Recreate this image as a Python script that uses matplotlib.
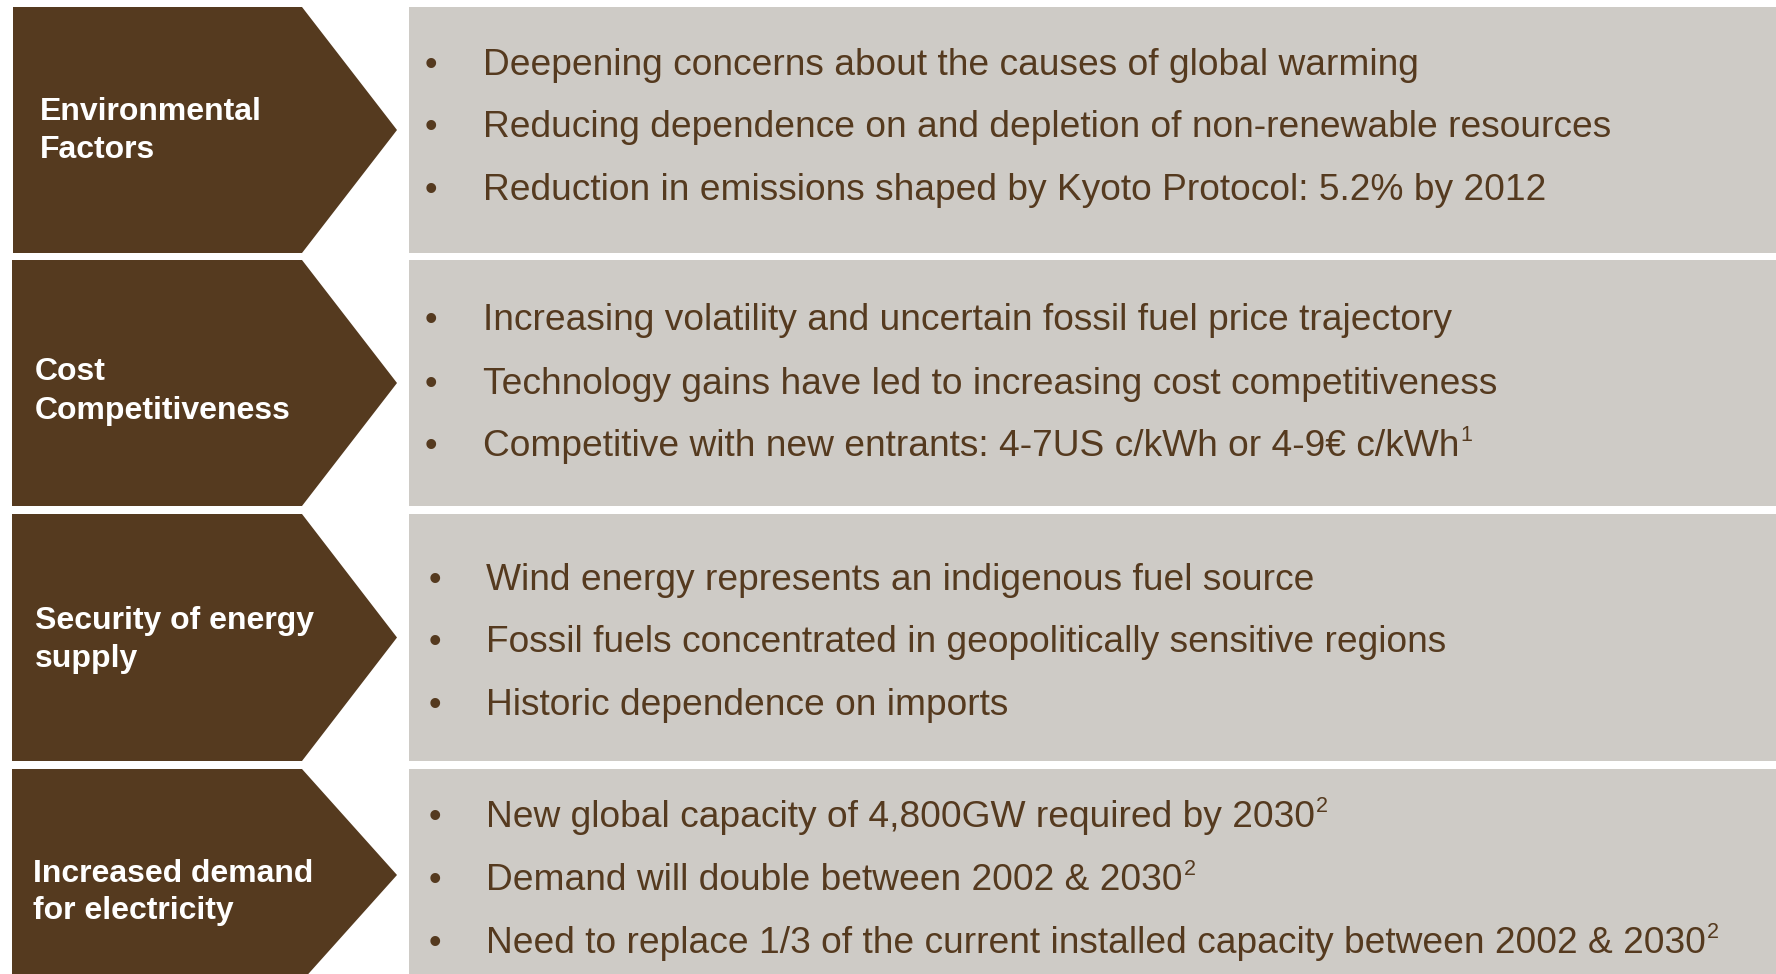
import matplotlib
matplotlib.use('Agg')
import matplotlib.pyplot as plt
from matplotlib.patches import Polygon, Rectangle

# Drivers (left arrows) and supporting points (right panels)
labels = [
    ["Environmental", "Factors"],
    ["Cost", "Competitiveness"],
    ["Security of energy", "supply"],
    ["Increased demand", "for electricity"],
]
bullets = [
    ["Deepening concerns about the causes of global warming",
     "Reducing dependence on and depletion of non-renewable resources",
     "Reduction in emissions shaped by Kyoto Protocol: 5.2% by 2012"],
    ["Increasing volatility and uncertain fossil fuel price trajectory",
     "Technology gains have led to increasing cost competitiveness",
     "Competitive with new entrants: 4-7US c/kWh or 4-9\u20ac c/kWh"],
    ["Wind energy represents an indigenous fuel source",
     "Fossil fuels concentrated in geopolitically sensitive regions",
     "Historic dependence on imports"],
    ["New global capacity of 4,800GW required by 2030",
     "Demand will double between 2002 & 2030",
     "Need to replace 1/3 of the current installed capacity between 2002 & 2030"],
]
# footnote marks after each bullet ('' = none)
footnotes = [
    ["", "", ""],
    ["", "", "1"],
    ["", "", ""],
    ["2", "2", "2"],
]

# =========================================================================
# Layout (pixels, origin top-left)
# =========================================================================
W, H = 1776, 974
BROWN = '#553a1f'
GREY = '#cecbc6'

row_top = [7, 260, 514, 769]
row_h = [246, 246, 247, 212]
arrow_left = [13, 12, 12, 12]
shoulder_x, tip_x = 302, 397
panel_left, panel_right = 409, 1776

label_x = [40, 35, 35, 33]
label_mid = [129, 390, 638, 891]
bullet_x = [431, 431, 435, 435]
text_x = [483, 483, 486, 486]
line_y = [[62, 124, 187], [317, 381, 443], [577, 639, 702], [814, 877, 940]]

FONT = 'Liberation Sans'
BODY_FS = 26.75
LABEL_FS = 23

fig = plt.figure(figsize=(W / 100, H / 100), dpi=100)
ax = fig.add_axes([0, 0, 1, 1])
ax.set_xlim(0, W)
ax.set_ylim(H, 0)
ax.axis('off')
renderer = fig.canvas.get_renderer()

for i in range(len(labels)):
    top = row_top[i]
    bot = top + row_h[i]
    mid = (top + bot) / 2

    # brown chevron
    pts = [(arrow_left[i], top), (shoulder_x, top), (tip_x, mid),
           (shoulder_x, bot), (arrow_left[i], bot)]
    ax.add_patch(Polygon(pts, closed=True, facecolor=BROWN, edgecolor='none'))

    # grey panel
    ax.add_patch(Rectangle((panel_left, top), panel_right - panel_left, row_h[i],
                           facecolor=GREY, edgecolor='none'))

    # label lines
    for k, line in enumerate(labels[i]):
        base = label_mid[i] + 9.5 + (k - 0.5) * 38
        ax.text(label_x[i], base, line, color='white', fontsize=LABEL_FS,
                fontweight='bold', family=FONT, ha='left', va='baseline')

    # bullet points
    for k, txt in enumerate(bullets[i]):
        base = line_y[i][k] + 13
        ax.text(bullet_x[i], base, '\u2022', color=BROWN, fontsize=BODY_FS - 1,
                family=FONT, ha='center', va='baseline')
        t = ax.text(text_x[i], base, txt, color=BROWN, fontsize=BODY_FS,
                    family=FONT, ha='left', va='baseline')
        if footnotes[i][k]:
            bb = t.get_window_extent(renderer)
            ax.text(bb.x1 + 1, base - 15, footnotes[i][k], color=BROWN,
                    fontsize=BODY_FS * 0.58, family=FONT,
                    ha='left', va='baseline')

fig.savefig('out.png', dpi=100)
plt.close('all')
